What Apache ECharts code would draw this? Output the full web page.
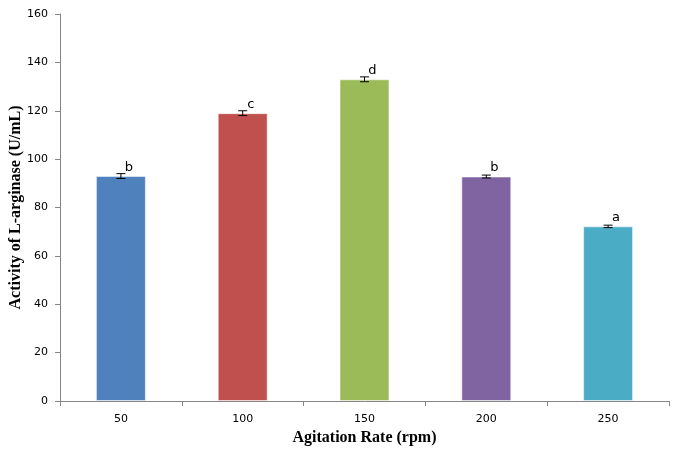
<!DOCTYPE html>
<html>
<head>
<meta charset="utf-8">
<script src="https://cdn.jsdelivr.net/npm/echarts@6/dist/echarts.min.js"></script>
<style>
  html, body { margin: 0; padding: 0; background: #fff; }
  #chart { width: 673px; height: 454px; }
</style>
</head>
<body>
<div id="chart"></div>
<script>
// Agitation rate vs L-arginase activity
const categories = ['50', '100', '150', '200', '250'];
const activity = [93, 119, 133, 92.8, 72.2];
const errors = [1.0, 1.0, 1.0, 0.6, 0.5];
const groups = ['b', 'c', 'd', 'b', 'a'];
const barColors = ['#4F81BD', '#C0504D', '#9BBB59', '#8064A2', '#4BACC6'];
const yTicks = { min: 0, max: 160, interval: 20 };

const chart = echarts.init(document.getElementById('chart'), null, { renderer: 'canvas' });

const barData = activity.map((v, i) => ({
  value: v,
  itemStyle: { color: barColors[i] },
  label: { formatter: groups[i] }
}));

const errData = activity.map((v, i) => [i, v - errors[i], v + errors[i]]);

chart.setOption({
  animation: false,
  grid: { left: 60, right: 4, top: 14, bottom: 53, containLabel: false, outerBoundsMode: 'none' },
  xAxis: {
    type: 'category',
    data: categories,
    axisLine: { lineStyle: { color: '#868686', width: 1 } },
    axisTick: { show: true, alignWithLabel: false, length: 5, lineStyle: { color: '#868686' } },
    axisLabel: { color: '#000', fontFamily: 'DejaVu Sans', fontSize: 11, margin: 13 },
    name: 'Agitation Rate (rpm)',
    nameLocation: 'middle',
    nameGap: 29,
    nameMoveOverlap: false,
    nameTextStyle: { fontFamily: 'Liberation Serif', fontWeight: 'bold', fontSize: 16, color: '#000' }
  },
  yAxis: {
    type: 'value',
    min: yTicks.min,
    max: yTicks.max,
    interval: yTicks.interval,
    splitLine: { show: false },
    axisLine: { show: true, lineStyle: { color: '#868686', width: 1 } },
    axisTick: { show: true, length: 5, lineStyle: { color: '#868686' } },
    axisLabel: { color: '#000', fontFamily: 'DejaVu Sans', fontSize: 11, margin: 12 },
    name: 'Activity of L-arginase (U/mL)',
    nameLocation: 'middle',
    nameGap: 36,
    nameMoveOverlap: false,
    nameTextStyle: { fontFamily: 'Liberation Serif', fontWeight: 'bold', fontSize: 16, color: '#000' }
  },
  series: [
    {
      type: 'bar',
      data: barData,
      barWidth: '41%',
      itemStyle: { borderColor: 'rgba(255,255,255,0.5)', borderWidth: 1 },
      label: {
        show: true,
        position: 'top',
        distance: 2,
        offset: [8, 0],
        color: '#000',
        fontFamily: 'DejaVu Sans',
        fontSize: 13
      },
      z: 2
    },
    {
      type: 'custom',
      data: errData,
      z: 3,
      renderItem: function (params, api) {
        const x = api.coord([api.value(0), 0])[0];
        const lo = api.coord([api.value(0), api.value(1)])[1];
        const hi = api.coord([api.value(0), api.value(2)])[1];
        const w = 4.5;
        const style = { stroke: '#000', lineWidth: 1 };
        return {
          type: 'group',
          children: [
            { type: 'line', shape: { x1: x, y1: lo, x2: x, y2: hi }, style },
            { type: 'line', shape: { x1: x - w, y1: lo, x2: x + w, y2: lo }, style },
            { type: 'line', shape: { x1: x - w, y1: hi, x2: x + w, y2: hi }, style }
          ]
        };
      }
    }
  ]
});
</script>
</body>
</html>
